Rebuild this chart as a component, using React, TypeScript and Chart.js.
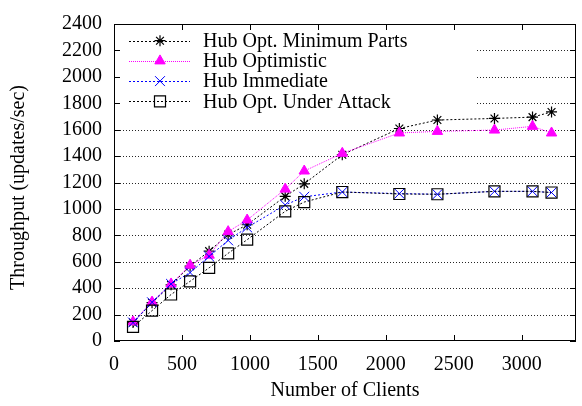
import React, { useEffect, useRef } from 'react';
import { Chart, registerables } from 'chart.js';
import { drawPoint } from 'chart.js/helpers';

Chart.register(...registerables);

// ---- data ----
const clients = [140, 280, 420, 560, 700, 840, 980, 1260, 1400, 1680, 2100, 2380, 2800, 3080, 3220];
const hubOptMinimumParts = [140, 290, 425, 567, 680, 805, 880, 1095, 1190, 1410, 1609, 1673, 1685, 1695, 1734];
const hubOptimistic = [145, 295, 432, 574, 650, 828, 916, 1150, 1287, 1421, 1575, 1587, 1597, 1625, 1575];
const hubImmediate = [140, 293, 432, 518, 640, 762, 860, 1030, 1092, 1128, 1116, 1111, 1133, 1133, 1124];
const hubOptUnderAttack = [107, 230, 352, 452, 554, 664, 767, 982, 1052, 1128, 1113, 1111, 1133, 1133, 1124];

const seriesLabels = ['Hub Opt. Minimum Parts', 'Hub Optimistic', 'Hub Immediate', 'Hub Opt. Under Attack'];
const seriesValues = [hubOptMinimumParts, hubOptimistic, hubImmediate, hubOptUnderAttack];

const xTitle = 'Number of Clients';
const yTitle = 'Throughput (updates/sec)';
const xTickValues = [0, 500, 1000, 1500, 2000, 2500, 3000];
const yTickValues = [0, 200, 400, 600, 800, 1000, 1200, 1400, 1600, 1800, 2000, 2200, 2400];
const xMin = 0;
const xMax = 3400;
const yMin = 0;
const yMax = 2400;

// ---- styles ----
const colors = ['#000000', '#ff00ff', '#0000ff', '#000000'];
const fills = ['rgba(0,0,0,0)', '#ff00ff', 'rgba(0,0,0,0)', 'rgba(0,0,0,0)'];
const pointStyles = ['star', 'triangle', 'crossRot', 'rect'];
const radii = [5.5, 6, 7, 7.8];
const pointWidths = [1.2, 1, 1, 1.2];
const dashes = [[2, 2], [1, 1], [2, 2], [2, 2]];
const FAMILY = '"Liberation Serif", "Times New Roman", serif';
const FONT_SIZE = 20;

const W = 585;
const H = 406;

const legendBox = { right: 477, bottom: 112 };
const legendRows = { firstY: 40.7, step: 20.2, lineX0: 129, lineX1: 190, markX: 160, textX: 203 };

const gnuplotPlugin = {
  id: 'gnuplotFrame',
  beforeDatasetsDraw(chart: any) {
    const { ctx, chartArea: a, scales } = chart;
    const ys = scales.y;
    ctx.save();
    ctx.strokeStyle = 'rgba(0,0,0,0.85)';
    ctx.lineWidth = 1;
    ctx.setLineDash([1, 2]);
    yTickValues.forEach((v) => {
      if (v === yMin || v === yMax) return;
      const y = Math.round(ys.getPixelForValue(v)) + 0.5;
      ctx.beginPath();
      ctx.moveTo(a.left, y);
      ctx.lineTo(a.right, y);
      ctx.stroke();
    });
    ctx.setLineDash([]);
    ctx.fillStyle = '#ffffff';
    ctx.fillRect(a.left + 1, a.top + 1, legendBox.right - a.left - 1, legendBox.bottom - a.top);
    ctx.restore();
  },
  afterDatasetsDraw(chart: any) {
    const { ctx, chartArea: a, scales } = chart;
    const xs = scales.x;
    const ys = scales.y;
    ctx.save();
    chart.data.datasets.forEach((ds: any, i: number) => {
      const y = legendRows.firstY + i * legendRows.step;
      ctx.strokeStyle = colors[i];
      ctx.lineWidth = 1;
      ctx.setLineDash(dashes[i]);
      ctx.beginPath();
      ctx.moveTo(legendRows.lineX0, Math.round(y) + 0.5);
      ctx.lineTo(legendRows.lineX1, Math.round(y) + 0.5);
      ctx.stroke();
      ctx.setLineDash([]);
      ctx.fillStyle = fills[i];
      ctx.lineWidth = pointWidths[i];
      drawPoint(ctx, { pointStyle: pointStyles[i], radius: radii[i], borderWidth: pointWidths[i], rotation: 0 } as any, legendRows.markX, y);
      ctx.fillStyle = '#000';
      ctx.font = `${FONT_SIZE}px ${FAMILY}`;
      ctx.textAlign = 'left';
      ctx.textBaseline = 'middle';
      ctx.fillText(ds.label, legendRows.textX, y + 1);
    });
    ctx.strokeStyle = '#000';
    ctx.lineWidth = 1;
    ctx.strokeRect(a.left + 0.5, a.top + 0.5, a.right - a.left - 1, a.bottom - a.top - 1);
    const tl = 6;
    yTickValues.forEach((v) => {
      const y = Math.round(ys.getPixelForValue(v)) + 0.5;
      ctx.beginPath();
      ctx.moveTo(a.left, y);
      ctx.lineTo(a.left + tl, y);
      ctx.moveTo(a.right, y);
      ctx.lineTo(a.right - tl, y);
      ctx.stroke();
    });
    xTickValues.forEach((v) => {
      const x = Math.round(xs.getPixelForValue(v)) + 0.5;
      ctx.beginPath();
      ctx.moveTo(x, a.bottom);
      ctx.lineTo(x, a.bottom - tl);
      ctx.moveTo(x, a.top);
      ctx.lineTo(x, a.top + tl);
      ctx.stroke();
    });
    ctx.restore();
  },
  afterDraw(chart: any) {
    const { ctx } = chart;
    ctx.save();
    ctx.translate(18.5, 187.5);
    ctx.rotate(-Math.PI / 2);
    ctx.fillStyle = '#000';
    ctx.font = `${FONT_SIZE}px ${FAMILY}`;
    ctx.textAlign = 'center';
    ctx.textBaseline = 'middle';
    ctx.fillText(yTitle, 0, 0);
    ctx.restore();
  },
};

export default function App() {
  const canvasRef = useRef<HTMLCanvasElement | null>(null);

  useEffect(() => {
    document.documentElement.style.overflow = 'hidden';
    document.body.style.margin = '0';
    const canvas = canvasRef.current;
    if (!canvas) return;
    const datasets = seriesLabels.map((label, i) => ({
      label,
      data: clients.map((x, j) => ({ x, y: seriesValues[i][j] })),
      showLine: true,
      borderColor: colors[i],
      backgroundColor: fills[i],
      borderWidth: 1,
      borderDash: dashes[i],
      pointStyle: pointStyles[i],
      pointRadius: radii[i],
      pointBorderWidth: pointWidths[i],
      pointBorderColor: colors[i],
      pointBackgroundColor: fills[i],
      tension: 0,
      order: seriesLabels.length - i,
    }));
    const tickFont = { family: FAMILY, size: FONT_SIZE };
    const fmt = (v: any) => String(v);
    const chart = new Chart(canvas, {
      type: 'scatter',
      data: { datasets } as any,
      options: {
        responsive: false,
        animation: false,
        devicePixelRatio: 1,
        layout: { padding: { top: 12, left: 0, right: 1, bottom: 0 } },
        plugins: { legend: { display: false }, tooltip: { enabled: false } },
        scales: {
          x: {
            type: 'linear',
            min: xMin,
            max: xMax,
            ticks: { font: tickFont, color: '#000', padding: 12, maxRotation: 0, minRotation: 0, autoSkip: false, callback: fmt },
            grid: { display: false, drawTicks: false },
            border: { display: false },
            title: { display: true, text: xTitle, font: tickFont, color: '#000', padding: { top: 0, bottom: 3 } },
            afterBuildTicks: (s: any) => {
              s.ticks = xTickValues.map((v) => ({ value: v }));
            },
            afterFit: (s: any) => {
              s.height = 65;
            },
          },
          y: {
            type: 'linear',
            min: yMin,
            max: yMax,
            ticks: { font: tickFont, color: '#000', padding: 12, autoSkip: false, callback: fmt },
            grid: { display: false, drawTicks: false },
            border: { display: false },
            afterBuildTicks: (s: any) => {
              s.ticks = yTickValues.map((v) => ({ value: v }));
            },
            afterFit: (s: any) => {
              s.width = 114;
            },
          },
        },
      } as any,
      plugins: [gnuplotPlugin],
    });
    return () => chart.destroy();
  }, []);

  return (
    <div style={{ position: 'fixed', left: 0, top: 0, width: W, height: H, background: '#fff' }}>
      <canvas ref={canvasRef} width={W} height={H} style={{ display: 'block' }} />
    </div>
  );
}
